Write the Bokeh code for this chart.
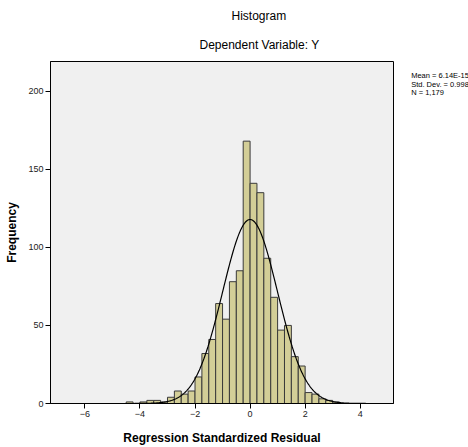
import numpy as np
from bokeh.plotting import figure
from bokeh.models import Title, FixedTicker
from bokeh.layouts import row
from bokeh.core.properties import value
from bokeh.embed import file_html
from bokeh.resources import INLINE

# ---- data ----
bin_width = 0.25
bin_left = [-4.5, -4.25, -4.0, -3.75, -3.5, -3.25, -3.0, -2.75, -2.5, -2.25,
            -2.0, -1.75, -1.5, -1.25, -1.0, -0.75, -0.5, -0.25, 0.0, 0.25,
            0.5, 0.75, 1.0, 1.25, 1.5, 1.75, 2.0, 2.25, 2.5, 2.75, 3.0]
counts = [1, 0, 1, 2, 2, 1, 4, 8, 6, 8,
          17, 32, 41, 64, 54, 78, 85, 168, 141, 135,
          93, 68, 47, 50, 30, 24, 7, 6, 3, 2, 1]
mean = 6.14e-15
std_dev = 0.998
n_obs = 1179
x_ticks = [-6, -4, -2, 0, 2, 4]
y_ticks = [0, 50, 100, 150, 200]
stats_lines = ["Mean = 6.14E-15", "Std. Dev. = 0.998", "N = 1,179"]

FONT = "Liberation Sans"
X_RANGE = (-7.25, 5.21)
Y_RANGE = (0, 219)

p = figure(width=400, height=447, x_range=X_RANGE, y_range=Y_RANGE,
           output_backend="svg", toolbar_location=None,
           min_border_left=50, min_border_right=7,
           min_border_top=61, min_border_bottom=44)

p.background_fill_color = "#f0f0f0"
p.border_fill_color = "white"
p.outline_line_color = "black"
p.outline_line_width = 1
p.xgrid.visible = False
p.ygrid.visible = False

left = np.array(bin_left)
p.quad(left=left, right=left + bin_width, bottom=0, top=counts,
       fill_color="#d3ce97", line_color="#3a3a3a", line_width=1)

xs = np.linspace(X_RANGE[0], X_RANGE[1], 600)
ys = n_obs * bin_width * np.exp(-0.5 * ((xs - mean) / std_dev) ** 2) / (std_dev * np.sqrt(2 * np.pi))
p.line(xs, ys, line_color="black", line_width=1.2)

for ax in (p.xaxis, p.yaxis):
    ax.axis_line_color = "black"
    ax.major_tick_line_color = "black"
    ax.major_tick_out = 5
    ax.major_tick_in = 0
    ax.minor_tick_line_color = None
    ax.major_label_text_font = FONT
    ax.major_label_text_font_size = "9px"
    ax.major_label_text_color = "#222222"
    ax.major_label_standoff = 2
    ax.axis_label_text_font = FONT
    ax.axis_label_text_font_size = "12px"
    ax.axis_label_text_font_style = "bold"
    ax.axis_label_text_color = "black"

p.xaxis.ticker = FixedTicker(ticks=x_ticks)
p.yaxis.ticker = FixedTicker(ticks=y_ticks)
p.xaxis.axis_label = "Regression Standardized Residual"
p.yaxis.axis_label = "Frequency"
p.xaxis.axis_label_standoff = 11
p.yaxis.axis_label_standoff = 6

p.title.text = "Histogram"
p.title.align = "left"
p.title.offset = 181
p.title.text_font = FONT
p.title.text_font_size = "12px"
p.title.text_font_style = "normal"
p.title.text_color = "black"
p.title.standoff = 5

t2 = Title(text="Dependent Variable: Y", align="left", offset=149, text_font=FONT,
           text_font_size="12px", text_font_style="normal", text_color="black",
           standoff=20)
p.add_layout(t2, "above")

# side panel holding the summary statistics (frame aligned with main plot)
p2 = figure(width=68, height=447, x_range=(0, 68), y_range=p.y_range,
            output_backend="svg", toolbar_location=None,
            x_axis_location=None, y_axis_location=None, min_border=0)
p2.xgrid.visible = False
p2.ygrid.visible = False
p2.outline_line_color = None
p2.background_fill_color = "white"
p2.border_fill_color = "white"
p2.text(x=[10.7, 10.7, 10.7], y=[209.8, 204.5, 199.4], text=stats_lines,
        text_baseline="middle", text_align="left",
        text_font=value(FONT), text_font_size=value("7.5px"), text_color="black")

layout = row(p, p2, spacing=0)
open("out.html", "w").write(file_html(layout, INLINE))
